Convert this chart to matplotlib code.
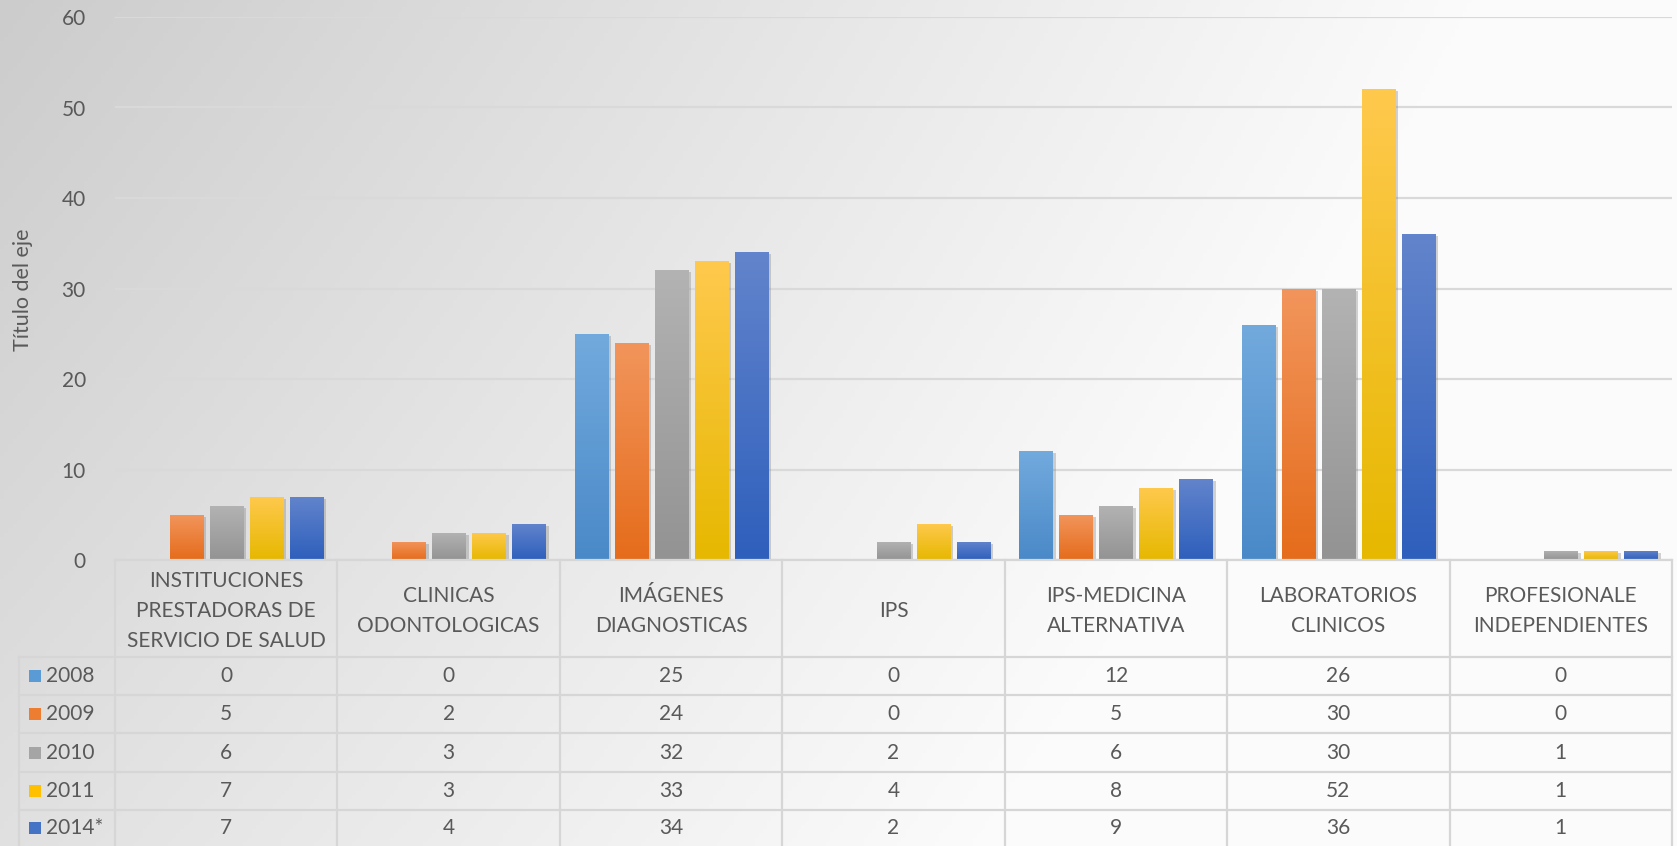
import numpy as np
import matplotlib
matplotlib.use("Agg")
import matplotlib.pyplot as plt
from matplotlib.transforms import blended_transform_factory
from matplotlib.colors import to_rgb
import matplotlib.patheffects as pe

plt.rcParams['font.family'] = ['Lato', 'DejaVu Sans']

categories = ["INSTITUCIONES\nPRESTADORAS DE\nSERVICIO DE SALUD",
              "CLINICAS\nODONTOLOGICAS",
              "IMÁGENES\nDIAGNOSTICAS",
              "IPS",
              "IPS-MEDICINA\nALTERNATIVA",
              "LABORATORIOS\nCLINICOS",
              "PROFESIONALE\nINDEPENDIENTES"]
series_names = ["2008", "2009", "2010", "2011", "2014*"]
v2008 = [0, 0, 25, 0, 12, 26, 0]
v2009 = [5, 2, 24, 0, 5, 30, 0]
v2010 = [6, 3, 32, 2, 6, 30, 1]
v2011 = [7, 3, 33, 4, 8, 52, 1]
v2014 = [7, 4, 34, 2, 9, 36, 1]
values = [v2008, v2009, v2010, v2011, v2014]
y_ticks = [0, 10, 20, 30, 40, 50, 60]

base_colors = ["#5b9bd5", "#ed7d31", "#a5a5a5", "#ffc000", "#4472c4"]
top_colors = ["#72aadd", "#f2955c", "#b3b3b3", "#ffc94d", "#6284cc"]
bot_colors = ["#4a89c8", "#e56c1b", "#939393", "#e6b800", "#2e5fbc"]

W, H = 1677, 846
fig = plt.figure(figsize=(W / 100, H / 100), dpi=100)

# background gradient
bg = fig.add_axes([0, 0, 1, 1], zorder=-10)
bg.axis('off')
xx, yy = np.meshgrid(np.linspace(0, 1, 400), np.linspace(0, 1, 200))
val = 0.80 + 0.21 * xx + 0.08 * yy - 0.03 * xx * yy
val = np.clip(val, 0, 0.985)
bg.imshow(np.dstack([val, val, val]), extent=[0, 1, 0, 1], aspect='auto', origin='upper')
bg.set_xlim(0, 1)
bg.set_ylim(0, 1)

def fx(p):
    return p / W

def fy(p):
    return 1 - p / H

ax_left, ax_right, ax_top, ax_bot = 115, 1672, 17, 560
ax = fig.add_axes([fx(ax_left), fy(ax_bot), (ax_right - ax_left) / W, (ax_bot - ax_top) / H])
ax.set_facecolor('none')
for s in ax.spines.values():
    s.set_visible(False)

n = len(categories)
x = np.arange(n)
pitch = 40 / 222.4
bw = 33 / 222.4
offsets = (np.arange(5) - 2) * pitch

for i, (vals, bc, tc, dc) in enumerate(zip(values, base_colors, top_colors, bot_colors)):
    bars = ax.bar(x + offsets[i], vals, width=bw, color=bc, zorder=3,
                  path_effects=[pe.SimplePatchShadow(offset=(2.5, -1.5), shadow_rgbFace='#808080', alpha=0.35), pe.Normal()])
    t = np.array(to_rgb(tc))
    d = np.array(to_rgb(dc))
    grad = np.linspace(0, 1, 100)[:, None]
    img = t[None, None, :] * (1 - grad[:, :, None]) + d[None, None, :] * grad[:, :, None]
    for b in bars:
        h = b.get_height()
        if h <= 0:
            continue
        x0 = b.get_x()
        im = ax.imshow(img, extent=[x0, x0 + b.get_width(), 0, h], aspect='auto',
                       origin='upper', zorder=4, interpolation='bilinear')
        im.set_clip_path(b)

ax.set_xlim(-0.5, n - 0.5)
ax.set_ylim(0, 60)
ax.set_yticks(y_ticks)
ax.set_xticks([])
ax.tick_params(axis='y', length=0, pad=21, labelsize=15, labelcolor='#595959')
ax.grid(axis='y', color='#d9d9d9', linewidth=1.6, zorder=0)
ax.set_axisbelow(True)

fig.text(fx(23), fy(290), "Título del eje", rotation=90, ha='center', va='center',
         fontsize=15.5, color='#595959')

# data table
tr = blended_transform_factory(ax.transData, fig.transFigure)
line_c = '#d6d6d6'
lw = 1.6
row_tops = [657, 695, 733, 772, 810]
row_bot = 846
fig.add_artist(plt.Line2D([fx(ax_left), fx(ax_right)], [fy(560), fy(560)], color=line_c, lw=lw))
for yt in row_tops:
    fig.add_artist(plt.Line2D([fx(19), fx(ax_right)], [fy(yt), fy(yt)], color=line_c, lw=lw))
fig.add_artist(plt.Line2D([fx(19), fx(19)], [fy(657), fy(846)], color=line_c, lw=lw))
for b in np.arange(n + 1) - 0.5:
    fig.add_artist(plt.Line2D([b, b], [fy(560), fy(846)], color=line_c, lw=lw, transform=tr))

for j, c in enumerate(categories):
    fig.text(j, fy(611), c, transform=tr, ha='center', va='center', fontsize=15,
             color='#595959', linespacing=1.6)

row_centers = [(row_tops[k] + (row_tops[k + 1] if k + 1 < len(row_tops) else row_bot)) / 2 for k in range(5)]
for k, (name, vals) in enumerate(zip(series_names, values)):
    yc = fy(row_centers[k])
    fig.add_artist(plt.Rectangle((fx(29), yc - 6 / H), 12 / W, 12 / H, transform=fig.transFigure,
                                 facecolor=base_colors[k], edgecolor='none'))
    fig.text(fx(46), yc, name, ha='left', va='center', fontsize=15, color='#595959')
    for j, v in enumerate(vals):
        fig.text(j, yc, str(v), transform=tr, ha='center', va='center', fontsize=15, color='#595959')

fig.savefig("out.png", dpi=100)
